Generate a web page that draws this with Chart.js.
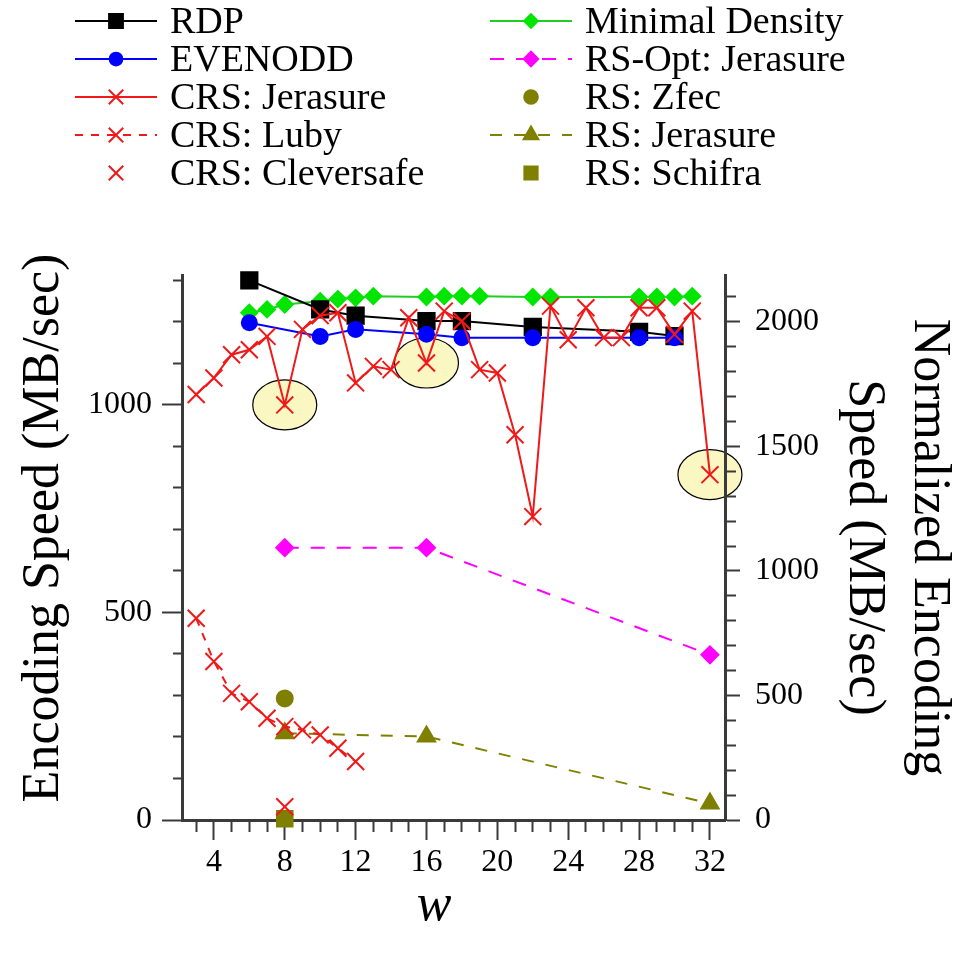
<!DOCTYPE html>
<html>
<head>
<meta charset="utf-8">
<script src="https://cdn.jsdelivr.net/npm/chart.js@4.4.0/dist/chart.umd.min.js"></script>
<style>
  html, body { margin: 0; padding: 0; background: #fff; }
  canvas { display: block; }
</style>
</head>
<body>
<canvas id="chart" width="961" height="956"></canvas>
<script>
// w values and encoding speeds (MB/sec)
const wRdp = [6, 10, 12, 16, 18, 22, 28, 30];
const rdp = [1300, 1230, 1215, 1202, 1202, 1188, 1176, 1166];

const wEvenodd = [6, 10, 12, 16, 18, 22, 28, 30];
const evenodd = [1198, 1165, 1182, 1170, 1162, 1162, 1162, 1162];

const wCrsJerasure = [3, 4, 5, 6, 7, 8, 9, 10, 11, 12, 13, 14, 15, 16, 17, 18, 19, 20, 21, 22, 23, 24, 25, 26, 27, 28, 29, 30, 31, 32];
const crsJerasure = [1025, 1065, 1121, 1133, 1165, 1000, 1182, 1215, 1222, 1053, 1093, 1085, 1210, 1101, 1226, 1202, 1085, 1077, 928, 731, 1238, 1157, 1234, 1162, 1162, 1234, 1234, 1170, 1226, 832];

const wCrsLuby = [3, 4, 5, 6, 7, 8, 9, 10, 11, 12];
const crsLuby = [486, 382, 305, 285, 245, 225, 217, 205, 173, 141];

const wCleversafe = [8];
const crsCleversafe = [32];

const wMinDensity = [6, 7, 8, 10, 11, 12, 13, 16, 17, 18, 19, 22, 23, 28, 29, 30, 31];
const minDensity = [1222, 1230, 1242, 1250, 1255, 1258, 1262, 1260, 1262, 1262, 1262, 1260, 1260, 1260, 1260, 1260, 1262];

const wRsOpt = [8, 16, 32];
const rsOptJerasure = [656, 656, 398];

const wZfec = [8];
const rsZfec = [293];

const wRsJerasure = [8, 16, 32];
const rsJerasure = [209, 201, 40];

const wSchifra = [8];
const rsSchifra = [3];

// circled CRS: Jerasure points
const highlightW = [8, 16, 32];

const legendCol1 = ['RDP', 'EVENODD', 'CRS: Jerasure', 'CRS: Luby', 'CRS: Cleversafe'];
const legendCol2 = ['Minimal Density', 'RS-Opt: Jerasure', 'RS: Zfec', 'RS: Jerasure', 'RS: Schifra'];

const leftMax = 1313;
const rightMax = leftMax * 5 / 3;

const serif = '"Liberation Serif", "Times New Roman", serif';
Chart.defaults.font.family = serif;
Chart.defaults.color = '#000';

function pts(xs, ys) {
  return xs.map((x, i) => ({ x: x, y: ys[i] }));
}

function series(label, xs, ys, color, style, radius, extra) {
  return Object.assign({
    label: label,
    data: pts(xs, ys),
    borderColor: color,
    backgroundColor: color,
    pointBackgroundColor: color,
    pointBorderColor: color,
    pointStyle: style,
    pointRadius: radius,
    pointBorderWidth: 2,
    borderWidth: 2,
    showLine: true,
    clip: false,
    tension: 0
  }, extra || {});
}

const red = '#f01818';
const olive = '#7f7f00';

const datasets = [
  series('CRS: Jerasure', wCrsJerasure, crsJerasure, red, 'crossRot', 12, { order: 1 }),
  series('EVENODD', wEvenodd, evenodd, '#0000ff', 'circle', 7.5, { order: 2 }),
  series('RDP', wRdp, rdp, '#000000', 'rect', 11.5, { order: 3 }),
  series('Minimal Density', wMinDensity, minDensity, '#00e600', 'rectRot', 8, { order: 4, borderColor: '#22cc22' }),
  series('RS-Opt: Jerasure', wRsOpt, rsOptJerasure, '#ff00ff', 'rectRot', 8.5, { order: 5, borderDash: [14, 12] }),
  series('CRS: Luby', wCrsLuby, crsLuby, red, 'crossRot', 12, { order: 6, borderDash: [8, 8] }),
  series('CRS: Cleversafe', wCleversafe, crsCleversafe, red, 'crossRot', 12, { order: 7, showLine: false }),
  series('RS: Jerasure', wRsJerasure, rsJerasure, olive, 'triangle', 10, { order: 8, borderDash: [12, 12] }),
  series('RS: Zfec', wZfec, rsZfec, olive, 'circle', 8, { order: 9, showLine: false }),
  series('RS: Schifra', wSchifra, rsSchifra, olive, 'rect', 11, { order: 10, showLine: false })
];

// ellipses behind the circled points (drawn before the axes)
const highlightPlugin = {
  id: 'highlight',
  beforeDraw(chart) {
    const { ctx, scales } = chart;
    ctx.save();
    highlightW.forEach(w => {
      const v = crsJerasure[wCrsJerasure.indexOf(w)];
      const px = scales.x.getPixelForValue(w);
      const py = scales.y.getPixelForValue(v);
      ctx.beginPath();
      ctx.ellipse(px, py, 32, 25, 0, 0, Math.PI * 2);
      ctx.fillStyle = '#fbf7c2';
      ctx.fill();
      ctx.strokeStyle = '#000';
      ctx.lineWidth = 1.2;
      ctx.stroke();
    });
    ctx.restore();
  }
};

// two-column legend at the top
const legendPlugin = {
  id: 'twoColLegend',
  afterDraw(chart) {
    const ctx = chart.ctx;
    const colX = [75, 490];
    const sampleLen = 82;
    ctx.save();
    ctx.font = '38px ' + serif;
    ctx.textBaseline = 'middle';
    ctx.textAlign = 'left';
    [legendCol1, legendCol2].forEach((col, c) => {
      col.forEach((label, r) => {
        const ds = chart.data.datasets.find(d => d.label === label);
        const y = 21 + r * 38;
        const x0 = colX[c];
        const xm = x0 + sampleLen / 2;
        if (ds.showLine) {
          ctx.setLineDash(ds.borderDash || []);
          ctx.strokeStyle = ds.borderColor;
          ctx.lineWidth = 2;
          ctx.beginPath();
          ctx.moveTo(x0, y);
          ctx.lineTo(x0 + sampleLen, y);
          ctx.stroke();
        }
        ctx.setLineDash([]);
        ctx.fillStyle = ds.pointBackgroundColor;
        ctx.strokeStyle = ds.pointBorderColor;
        ctx.lineWidth = 2;
        Chart.helpers.drawPoint(ctx, { pointStyle: ds.pointStyle, radius: ds.pointRadius * 0.85, rotation: 0, borderWidth: 2 }, xm, y);
        ctx.fillStyle = '#000';
        ctx.fillText(label, x0 + 95, y + 2);
      });
    });
    ctx.restore();
  }
};

function tickDash(major, minor) {
  return ctx => (ctx.tick && ctx.tick.value % major === 0) ? [] : minor;
}

new Chart(document.getElementById('chart'), {
  type: 'line',
  data: { datasets: datasets },
  plugins: [highlightPlugin, legendPlugin],
  options: {
    responsive: false,
    animation: false,
    layout: { padding: { top: 275, left: 0, right: 0, bottom: 0 } },
    plugins: {
      legend: { display: false },
      tooltip: { enabled: false }
    },
    scales: {
      x: {
        type: 'linear',
        min: 2.2,
        max: 32.85,
        afterFit: s => { s.height = 136; },
        border: { display: true, color: '#3a3a3a', width: 3 },
        grid: {
          drawOnChartArea: false,
          tickLength: 20,
          tickWidth: 2,
          tickColor: '#3a3a3a',
          tickBorderDash: tickDash(4, [10, 100])
        },
        ticks: {
          stepSize: 1,
          includeBounds: false,
          autoSkip: false,
          maxRotation: 0,
          padding: 3,
          font: { size: 32 },
          callback: v => (v % 4 === 0 ? v : '')
        },
        title: {
          display: true,
          text: 'w   ',
          font: { size: 52, style: 'italic' },
          padding: { top: 0, bottom: 18 }
        }
      },
      y: {
        position: 'left',
        min: 0,
        max: leftMax,
        afterFit: s => { s.width = 182; },
        border: { display: true, color: '#3a3a3a', width: 3 },
        grid: {
          drawOnChartArea: false,
          tickLength: 20,
          tickWidth: 2,
          tickColor: '#3a3a3a',
          tickBorderDash: tickDash(500, [0, 11, 30, 0])
        },
        ticks: {
          stepSize: 100,
          includeBounds: false,
          autoSkip: false,
          padding: 10,
          font: { size: 32 },
          callback: v => (v % 500 === 0 ? v : '')
        },
        title: {
          display: true,
          text: '   Encoding Speed (MB/sec)',
          font: { size: 52 },
          padding: { top: 13, bottom: 0 }
        }
      },
      y2: {
        position: 'right',
        min: 0,
        max: rightMax,
        afterFit: s => { s.width = 236; },
        border: { display: true, color: '#3a3a3a', width: 3 },
        grid: {
          drawOnChartArea: false,
          tickLength: 15,
          tickWidth: 2,
          tickColor: '#3a3a3a',
          tickBorderDash: tickDash(500, [9, 100])
        },
        ticks: {
          stepSize: 100,
          includeBounds: false,
          autoSkip: false,
          padding: 15,
          font: { size: 32 },
          callback: v => (v % 500 === 0 ? v : '')
        },
        title: {
          display: true,
          text: ['Normalized Encoding', 'Speed (MB/sec)'],
          font: { size: 52, lineHeight: 1.25 },
          padding: { top: 0, bottom: 0 }
        }
      }
    }
  }
});
</script>
</body>
</html>
